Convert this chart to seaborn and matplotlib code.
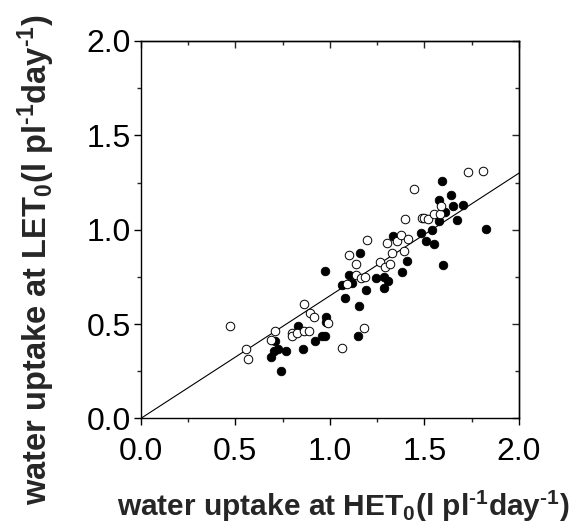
import matplotlib
matplotlib.use("Agg")
import matplotlib.pyplot as plt
import seaborn as sns
import pandas as pd
from matplotlib.ticker import MultipleLocator

# Filled circles
filled_x = [0.743, 0.687, 0.706, 0.724, 0.711, 0.766, 0.831, 0.858, 0.923, 0.958,
            0.972, 0.974, 0.981, 0.978, 1.062, 1.078, 1.099, 1.118, 1.152, 1.147,
            1.158, 1.191, 1.245, 1.286, 1.307, 1.286, 1.332, 1.381, 1.409, 1.480,
            1.508, 1.540, 1.549, 1.578, 1.578, 1.592, 1.608, 1.598, 1.642, 1.652,
            1.670, 1.703, 1.827]
filled_y = [0.253, 0.327, 0.358, 0.367, 0.411, 0.358, 0.490, 0.368, 0.412, 0.437,
            0.439, 0.783, 0.536, 0.511, 0.706, 0.638, 0.759, 0.716, 0.598, 0.439,
            0.875, 0.681, 0.744, 0.748, 0.727, 0.690, 0.967, 0.778, 0.836, 0.981,
            0.942, 0.997, 0.925, 1.048, 1.158, 1.257, 1.096, 0.812, 1.183, 1.124,
            1.050, 1.130, 1.002]

# Open circles
open_x = [0.472, 0.557, 0.569, 0.708, 0.687, 0.798, 0.798, 0.828, 0.861, 0.861,
          0.888, 0.895, 0.918, 0.988, 1.064, 1.182, 1.092, 1.103, 1.138, 1.136,
          1.163, 1.185, 1.194, 1.302, 1.263, 1.293, 1.316, 1.327, 1.356, 1.377,
          1.411, 1.393, 1.397, 1.443, 1.488, 1.497, 1.520, 1.550, 1.582, 1.586,
          1.732, 1.809]
open_y = [0.492, 0.368, 0.314, 0.462, 0.414, 0.455, 0.437, 0.455, 0.608, 0.462,
          0.462, 0.557, 0.539, 0.508, 0.375, 0.481, 0.711, 0.866, 0.817, 0.759,
          0.743, 0.748, 0.944, 0.931, 0.829, 0.801, 0.818, 0.875, 0.940, 0.974,
          0.951, 0.887, 1.059, 1.216, 1.064, 1.061, 1.055, 1.082, 1.083, 1.126,
          1.306, 1.310]

# Regression line through origin
fit_x = [0.0, 2.0]
fit_y = [0.0, 1.30]

x_ticks = [0.0, 0.5, 1.0, 1.5, 2.0]
y_ticks = [0.0, 0.5, 1.0, 1.5, 2.0]

sns.set_style("white")
plt.rcParams['font.family'] = ['Liberation Sans', 'DejaVu Sans']
plt.rcParams['mathtext.fontset'] = 'custom'
plt.rcParams['mathtext.rm'] = 'Liberation Sans:bold'
plt.rcParams['mathtext.bf'] = 'Liberation Sans:bold'
plt.rcParams['mathtext.default'] = 'bf'

fig = plt.figure(figsize=(5.8, 5.29), dpi=100)
ax = fig.add_axes([0.2426, 0.2089, 0.6522, 0.7136])

df_line = pd.DataFrame({"x": fit_x, "y": fit_y})
sns.lineplot(data=df_line, x="x", y="y", ax=ax, color="black", linewidth=0.8)

df_f = pd.DataFrame({"x": filled_x, "y": filled_y})
df_o = pd.DataFrame({"x": open_x, "y": open_y})
sns.scatterplot(data=df_f, x="x", y="y", ax=ax, color="black", edgecolor="black",
                s=38, linewidth=0.6, zorder=3)
sns.scatterplot(data=df_o, x="x", y="y", ax=ax, facecolor="white", edgecolor="black",
                s=38, linewidth=0.7, zorder=4)

ax.set_xlim(0, 2.0)
ax.set_ylim(0, 2.0)
ax.set_xticks(x_ticks)
ax.set_yticks(y_ticks)
ax.set_xticklabels([f"{v:.1f}" for v in x_ticks])
ax.set_yticklabels([f"{v:.1f}" for v in y_ticks])
ax.xaxis.set_minor_locator(MultipleLocator(0.25))
ax.yaxis.set_minor_locator(MultipleLocator(0.25))

for sp in ax.spines.values():
    sp.set_visible(True)
    sp.set_linewidth(1.0)
    sp.set_color("black")

ax.tick_params(axis='x', which='major', direction='out', length=5, width=1.0,
               labelsize=23, pad=8, bottom=True, top=False, colors='black')
ax.tick_params(axis='x', which='minor', direction='out', length=3, width=1.0,
               bottom=True, top=False)
ax.tick_params(axis='y', which='major', direction='out', length=5, width=1.0,
               labelsize=23, pad=2, left=True, right=False, colors='black')
ax.tick_params(axis='y', which='minor', direction='out', length=3, width=1.0,
               left=True, right=False)

# Inward ticks on top and right
secx = ax.secondary_xaxis('top')
secx.set_xticks(x_ticks)
secx.xaxis.set_minor_locator(MultipleLocator(0.25))
secx.tick_params(axis='x', which='major', direction='in', length=5, width=1.0, labeltop=False)
secx.tick_params(axis='x', which='minor', direction='in', length=3, width=1.0)
secx.spines['top'].set_linewidth(1.0)
secy = ax.secondary_yaxis('right')
secy.set_yticks(y_ticks)
secy.yaxis.set_minor_locator(MultipleLocator(0.25))
secy.tick_params(axis='y', which='major', direction='in', length=5, width=1.0, labelright=False)
secy.tick_params(axis='y', which='minor', direction='in', length=3, width=1.0)
secy.spines['right'].set_linewidth(1.0)

ax.set_xlabel(r"water uptake at HET$_{0}$(l pl$^{\text{-}1}$day$^{\text{-}1}$)",
              fontsize=21.5, fontweight='bold')
ax.set_ylabel(r"water uptake at LET$_{0}$(l pl$^{\text{-}1}$day$^{\text{-}1}$)",
              fontsize=23.5, fontweight='bold')
ax.xaxis.set_label_coords(0.535, -0.185)
ax.yaxis.set_label_coords(-0.22, 0.42)

fig.savefig("out.png", dpi=100)
